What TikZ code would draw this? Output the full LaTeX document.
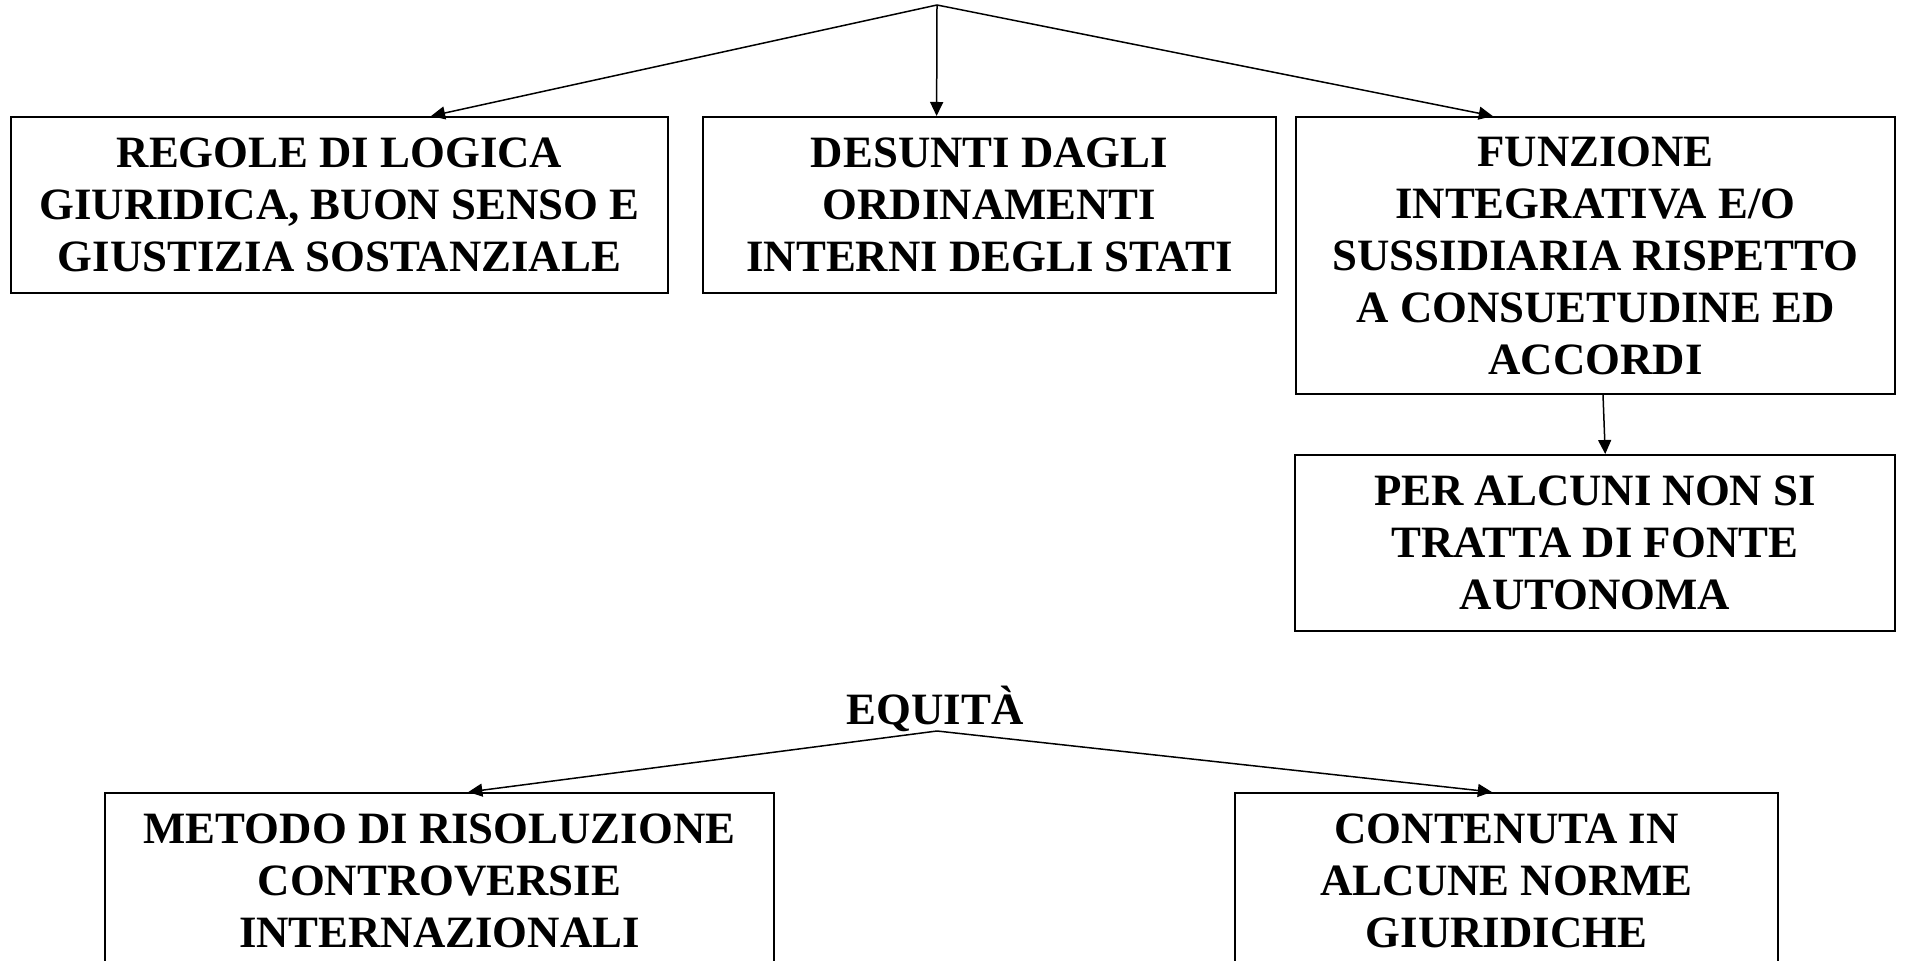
\documentclass[tikz,border=0pt]{standalone}
\usepackage{fontspec}
\setmainfont{Liberation Serif}
\usetikzlibrary{arrows.meta,calc}
\begin{document}
\begin{tikzpicture}[x=0.5pt,y=-0.5pt,
  box/.style={draw,line width=1pt,inner sep=0pt,align=center,
    font=\bfseries\fontsize{22.4pt}{26pt}\selectfont},
  conn/.style={line width=0.75pt,-{Triangle[length=7pt,width=6.5pt]}},
  plain/.style={line width=0.75pt}]
\clip (0,0) rectangle (1905,961);
\fill[white] (0,0) rectangle (1905,961);
\coordinate (top) at (937,5);
\node[box,minimum width=328.5pt,minimum height=88pt] (b1) at (339.5,205)
  {REGOLE DI LOGICA\\GIURIDICA, BUON SENSO E\\GIUSTIZIA SOSTANZIALE};
\node[box,minimum width=286.5pt,minimum height=88pt] (b2) at (989.5,205)
  {DESUNTI DAGLI\\ORDINAMENTI\\INTERNI DEGLI STATI};
\node[box,minimum width=299.5pt,minimum height=138.5pt] (b3) at (1595.5,255.5)
  {FUNZIONE\\INTEGRATIVA E/O\\SUSSIDIARIA RISPETTO\\A CONSUETUDINE ED\\ACCORDI};
\node[box,minimum width=300pt,minimum height=88pt] (b4) at (1595,543)
  {PER ALCUNI NON SI\\TRATTA DI FONTE\\AUTONOMA};
\node[box,draw=none,anchor=base,inner sep=0pt] (eq) at (935,725) {EQUITÀ};
\coordinate (eqp) at (937,731);
\node[box,minimum width=334.5pt,minimum height=88pt] (b5) at (439.5,881)
  {METODO DI RISOLUZIONE\\CONTROVERSIE\\INTERNAZIONALI};
\node[box,minimum width=271.5pt,minimum height=88pt] (b6) at (1506.5,881)
  {CONTENUTA IN\\ALCUNE NORME\\GIURIDICHE};
\draw[conn] (top) -- ($(b1.north west)!0.639!(b1.north east)$);
\draw[conn] (top) -- ($(b2.north west)!0.408!(b2.north east)$);
\draw[conn] (top) -- ($(b3.north west)!0.329!(b3.north east)$);
\draw[conn] ($(b3.south west)!0.5125!(b3.south east)$) -- ($(b4.north west)!0.517!(b4.north east)$);
\draw[conn] (eqp) -- ($(b5.north west)!0.543!(b5.north east)$);
\draw[conn] (eqp) -- ($(b6.north west)!0.473!(b6.north east)$);
\end{tikzpicture}
\end{document}
